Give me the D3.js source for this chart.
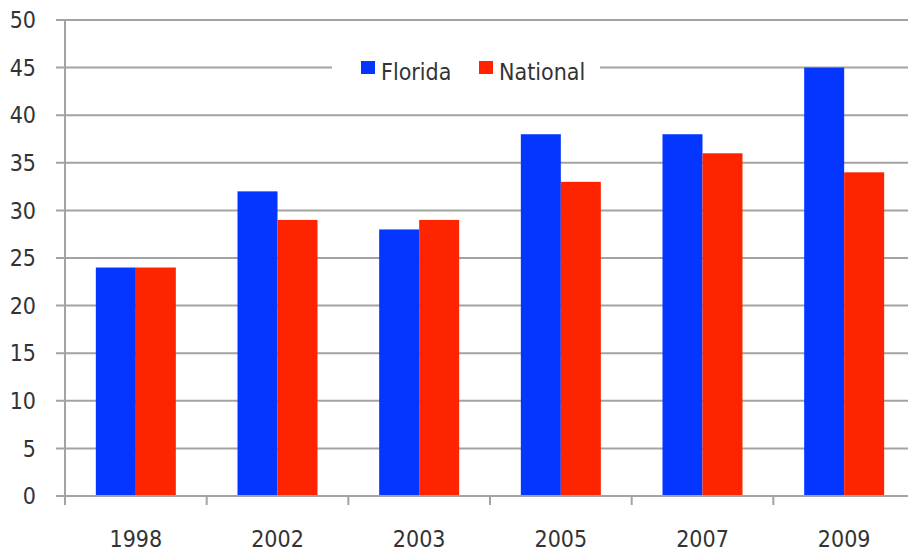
<!DOCTYPE html>
<html>
<head>
<meta charset="utf-8">
<script src="https://cdn.jsdelivr.net/npm/d3@7/dist/d3.min.js"></script>
<style>
  html, body { margin: 0; padding: 0; background: #fff; }
  svg { display: block; }
  text { font-family: "Liberation Sans Narrow", "DejaVu Sans Condensed", sans-serif; fill: #333; }
</style>
</head>
<body>
<svg id="chart" width="908" height="552"></svg>
<script>
// Years on the category axis
const years = ["1998", "2002", "2003", "2005", "2007", "2009"];
// Series values
const florida = [24, 32, 28, 38, 38, 45];
const national = [24, 29, 29, 33, 36, 34];
const seriesNames = ["Florida", "National"];
const seriesColors = ["#0536ff", "#ff2400"];
// Value-axis ticks
const yTicks = [0, 5, 10, 15, 20, 25, 30, 35, 40, 45, 50];

const svg = d3.select("#chart");
const plotLeft = 65, plotRight = 915, plotTop = 20, plotBottom = 496;

const x = d3.scaleBand().domain(years).range([plotLeft, plotRight]).padding(0);
const y = d3.scaleLinear().domain([0, 50]).range([plotBottom, plotTop]);
const barW = 40;

const gridColor = "#a3a3a3";

// Horizontal gridlines, extending a little left of the axis as tick marks
svg.append("g").selectAll("line").data(yTicks).join("line")
  .attr("x1", plotLeft - 9).attr("x2", 908)
  .attr("y1", d => y(d)).attr("y2", d => y(d))
  .attr("stroke", gridColor).attr("stroke-width", 2);

// Value-axis labels
svg.append("g").selectAll("text").data(yTicks).join("text")
  .attr("x", 36).attr("y", d => y(d)).attr("dy", "0.36em")
  .attr("text-anchor", "end").attr("font-size", 23)
  .text(d => d);

// Bars
const series = [florida, national];
series.forEach((vals, si) => {
  svg.append("g").selectAll("rect").data(years).join("rect")
    .attr("x", d => x(d) + x.bandwidth() / 2 - barW + si * barW)
    .attr("width", barW)
    .attr("y", (d, i) => y(vals[i]))
    .attr("height", (d, i) => y(0) - y(vals[i]))
    .attr("fill", seriesColors[si]);
});

// Axis lines
svg.append("line")
  .attr("x1", plotLeft).attr("x2", plotLeft).attr("y1", plotTop - 1).attr("y2", plotBottom + 9)
  .attr("stroke", gridColor).attr("stroke-width", 2);
svg.append("line")
  .attr("x1", plotLeft).attr("x2", 908).attr("y1", plotBottom).attr("y2", plotBottom)
  .attr("stroke", gridColor).attr("stroke-width", 2);

// Category boundary ticks
svg.append("g").selectAll("line").data(years.slice(1)).join("line")
  .attr("x1", d => x(d)).attr("x2", d => x(d))
  .attr("y1", plotBottom).attr("y2", plotBottom + 9)
  .attr("stroke", gridColor).attr("stroke-width", 2);

// Category labels
svg.append("g").selectAll("text").data(years).join("text")
  .attr("x", d => x(d) + x.bandwidth() / 2).attr("y", 547)
  .attr("text-anchor", "middle").attr("font-size", 23)
  .text(d => d);

// Legend over a white panel
const lg = svg.append("g");
lg.append("rect").attr("x", 332).attr("y", 50).attr("width", 268).attr("height", 36).attr("fill", "#fff");
const legendItems = [
  { name: seriesNames[0], color: seriesColors[0], sx: 361, tx: 381 },
  { name: seriesNames[1], color: seriesColors[1], sx: 479, tx: 499 }
];
legendItems.forEach(it => {
  lg.append("rect").attr("x", it.sx).attr("y", 61).attr("width", 14).attr("height", 13).attr("fill", it.color);
  lg.append("text").attr("x", it.tx).attr("y", 80).attr("font-size", 23).text(it.name);
});
</script>
</body>
</html>
